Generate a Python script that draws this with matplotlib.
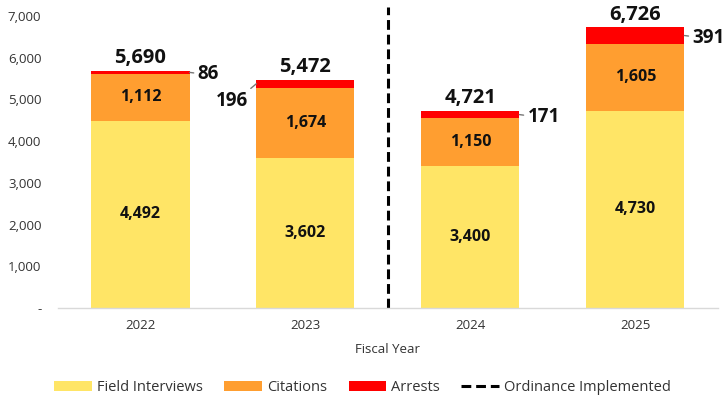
import numpy as np
import matplotlib.pyplot as plt

plt.rcParams['font.family'] = ['Open Sans', 'DejaVu Sans']

years = ['2022', '2023', '2024', '2025']
field_interviews = [4492, 3602, 3400, 4730]
citations = [1112, 1674, 1150, 1605]
arrests = [86, 196, 171, 391]
totals = [5690, 5472, 4721, 6726]

c_fi = '#FFE566'
c_cit = '#FF9E30'
c_arr = '#FF0000'

fig = plt.figure(figsize=(7.25, 3.98), dpi=100)
ax = fig.add_axes([0.08, 0.226, 0.91, 0.734])

x = np.arange(len(years))
fi = np.array(field_interviews)
cit = np.array(citations)
arr = np.array(arrests)
w = 0.595

ax.bar(x, fi, w, color=c_fi, label='Field Interviews')
ax.bar(x, cit, w, bottom=fi, color=c_cit, label='Citations')
ax.bar(x, arr, w, bottom=fi + cit, color=c_arr, label='Arrests')

# segment labels
for i in range(len(x)):
    ax.text(x[i], fi[i] / 2, f'{fi[i]:,}', ha='center', va='center',
            fontsize=11.5, fontweight='bold', color='#111111')
    ax.text(x[i], fi[i] + cit[i] / 2, f'{cit[i]:,}', ha='center', va='center',
            fontsize=11.5, fontweight='bold', color='#111111')
    ax.annotate(f'{totals[i]:,}', xy=(x[i], totals[i]), xytext=(0, 2),
                textcoords='offset points', ha='center', va='bottom',
                fontsize=14.5, fontweight='bold', color='#111111')

# arrest labels with leader lines
for i in range(len(x)):
    mid = fi[i] + cit[i] + arr[i] / 2
    if i == 1:
        ax.annotate(f'{arr[i]:,}', xy=(x[i] - w / 2, mid), xytext=(-6, -5),
                    textcoords='offset points', ha='right', va='top',
                    fontsize=13.5, fontweight='bold', color='#111111',
                    arrowprops=dict(arrowstyle='-', color='#777777', lw=1,
                                    shrinkA=0, shrinkB=0, relpos=(1, 1)))
    else:
        ax.annotate(f'{arr[i]:,}', xy=(x[i] + w / 2, mid), xytext=(6, -1.5),
                    textcoords='offset points', ha='left', va='center',
                    fontsize=13.5, fontweight='bold', color='#111111',
                    arrowprops=dict(arrowstyle='-', color='#777777', lw=1,
                                    shrinkA=1, shrinkB=0, relpos=(0, 0.55)))

# ordinance line
ax.plot([1.5, 1.5], [0, 1.03], transform=ax.get_xaxis_transform(),
        color='black', lw=2.2, linestyle=(0, (3.2, 1.6)), clip_on=False,
        label='Ordinance Implemented')

ax.set_xlim(-0.5, 3.5)
ax.set_ylim(0, 7000)
ax.set_yticks(range(0, 7001, 1000))
ax.set_yticklabels(['-'] + [f'{v:,}' for v in range(1000, 7001, 1000)])
ax.set_xticks(x)
ax.set_xticklabels(years)
ax.tick_params(axis='both', length=0, labelsize=9.5, colors='#333333')
ax.tick_params(axis='y', pad=12)
ax.tick_params(axis='x', pad=8)
ax.set_xlabel('Fiscal Year', fontsize=9.5, color='#333333', labelpad=8)

for s in ['top', 'right', 'left']:
    ax.spines[s].set_visible(False)
ax.spines['bottom'].set_color('#D9D9D9')
ax.spines['bottom'].set_linewidth(1)

handles, labels = ax.get_legend_handles_labels()
order = [1, 2, 3, 0]
fig.legend([handles[k] for k in order], [labels[k] for k in order],
           loc='center', bbox_to_anchor=(0.5, 0.026), ncol=4, frameon=False,
           fontsize=10.5, handlelength=2.6, handleheight=0.75, handletextpad=0.3,
           columnspacing=1.5, labelcolor='#333333')

fig.savefig('out.png', dpi=100)
